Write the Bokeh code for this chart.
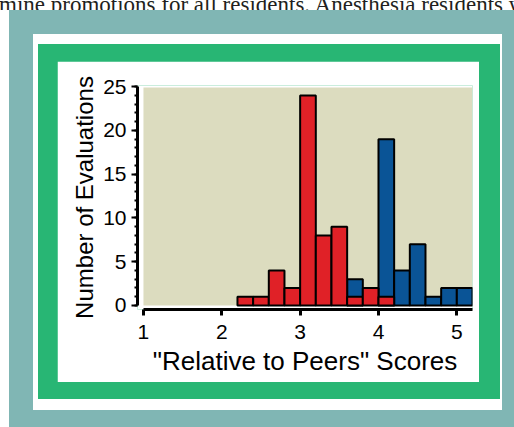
from bokeh.plotting import figure
from bokeh.models import BoxAnnotation, Range1d, SingleIntervalTicker, FixedTicker, Div
from bokeh.layouts import column
from bokeh.embed import file_html
from bokeh.resources import INLINE

# ---- data ----
bin_centers = [2.3, 2.5, 2.7, 2.9, 3.1, 3.3, 3.5, 3.7, 3.9, 4.1, 4.3, 4.5, 4.7, 4.9, 5.1]
red_counts  = [1, 1, 4, 2, 24, 8, 9, 1, 2, 1, 0, 0, 0, 0, 0]
blue_counts = [0, 0, 0, 0, 0, 0, 0, 3, 0, 19, 4, 7, 1, 2, 2]
bin_width = 0.2
x_ticks = [1, 2, 3, 4, 5]
x_title = '"Relative to Peers" Scores'
y_title = "Number of Evaluations"
top_text = "mine promotions for all residents. Anesthesia residents were"

TEAL = "#80b6b4"
GREEN = "#28b674"
BEIGE = "#dcdcbf"
RED = "#e02127"
BLUE = "#0a5496"
FONT = "Liberation Sans"

p = figure(width=422, height=321, output_backend="svg", toolbar_location=None,
           x_range=Range1d(0.924, 5.2), y_range=Range1d(-0.46, 25.14),
           min_border_left=80, min_border_right=7, min_border_top=24, min_border_bottom=73,
           background_fill_color="white", border_fill_color="white", margin=0)
p.outline_line_color = None
p.xgrid.visible = False
p.ygrid.visible = False

# beige plotting area
p.add_layout(BoxAnnotation(left=1, right=5.2, bottom=0, top=24.9,
                           fill_color=BEIGE, fill_alpha=1, line_color=None, level="underlay"))

bx = [x for x, v in zip(bin_centers, blue_counts) if v > 0]
bv = [v for v in blue_counts if v > 0]
rx = [x for x, v in zip(bin_centers, red_counts) if v > 0]
rv = [v for v in red_counts if v > 0]
p.vbar(x=bx, top=bv, bottom=0, width=bin_width, fill_color=BLUE, line_color="black", line_width=2)
p.vbar(x=rx, top=rv, bottom=0, width=bin_width, fill_color=RED, line_color="black", line_width=2)

# axes
xa = p.xaxis[0]
xa.ticker = FixedTicker(ticks=x_ticks)
xa.bounds = (1, 5.2)
xa.axis_line_width = 3
xa.major_tick_line_width = 3
xa.major_tick_out = 6
xa.major_tick_in = 0
xa.minor_tick_out = 0
xa.minor_tick_in = 0
xa.major_label_text_font = FONT
xa.major_label_text_font_size = "21px"
xa.major_label_text_color = "black"
xa.major_label_standoff = 9
xa.axis_label = x_title
xa.axis_label_text_font = FONT
xa.axis_label_text_font_size = "26px"
xa.axis_label_text_font_style = "normal"
xa.axis_label_text_color = "black"
xa.axis_label_standoff = 4

ya = p.yaxis[0]
ya.ticker = SingleIntervalTicker(interval=5, num_minor_ticks=5)
ya.bounds = (0, 25)
ya.axis_line_width = 3
ya.major_tick_line_width = 2
ya.major_tick_out = 6
ya.major_tick_in = 0
ya.minor_tick_line_width = 2
ya.minor_tick_out = 3
ya.minor_tick_in = 0
ya.major_label_text_font = FONT
ya.major_label_text_font_size = "21px"
ya.major_label_text_color = "black"
ya.major_label_standoff = 5
ya.axis_label = y_title
ya.axis_label_text_font = FONT
ya.axis_label_text_font_size = "24px"
ya.axis_label_text_font_style = "normal"
ya.axis_label_text_color = "black"
ya.axis_label_standoff = 2

def box(child, color, t, r, b, l):
    return column(child, margin=0, styles={"background-color": color,
                                            "padding": f"{t}px {r}px {b}px {l}px"})

green_box = box(p, GREEN, 17, 21, 17, 19)
white_box = box(green_box, "white", 10, 2, 11, 5)
teal_box = box(white_box, TEAL, 24, 12, 17, 24)
teal_wrap = box(teal_box, "white", 0, 0, 0, 9)

text_div = Div(text=f'<div style="margin-top:-17px;margin-left:-1px;white-space:nowrap;'
                    f'font-family:\'Liberation Serif\';font-size:23px;line-height:23px;color:#231f20">{top_text}</div>',
               width=514, height=10, margin=0,
               styles={"overflow": "hidden", "background-color": "white"})

page = column(text_div, teal_wrap, margin=0, styles={"background-color": "white"})

open("out.html", "w").write(file_html(page, INLINE))
